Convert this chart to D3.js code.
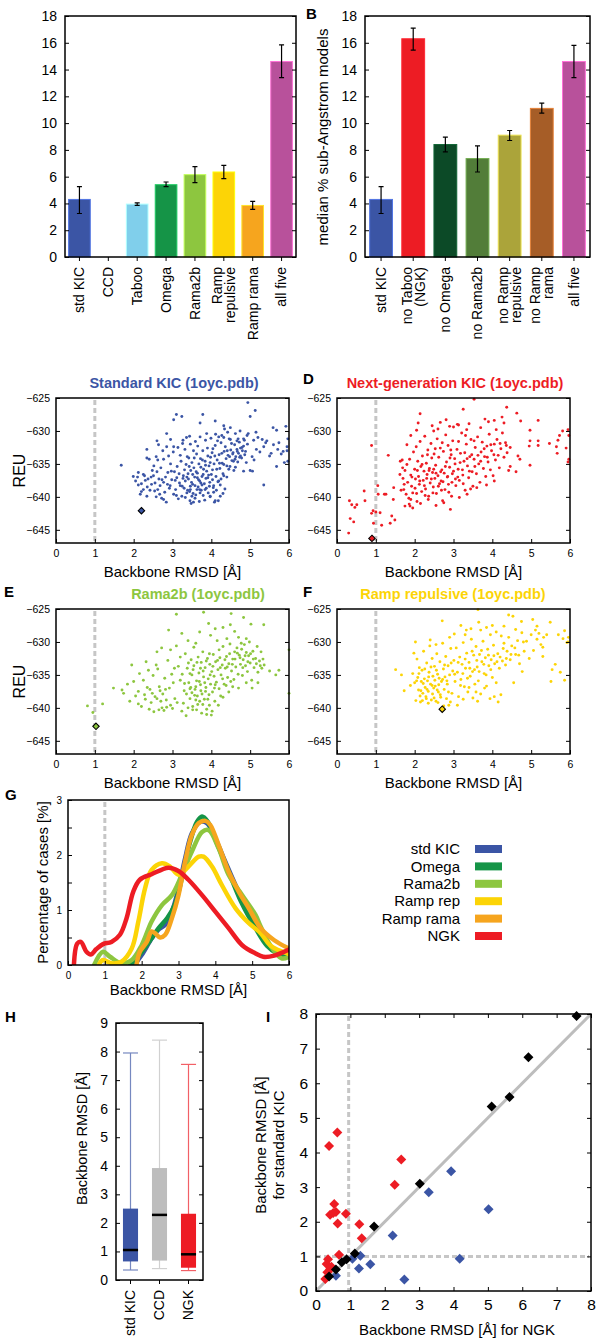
<!DOCTYPE html>
<html>
<head>
<meta charset="utf-8">
<script src="https://cdn.jsdelivr.net/npm/d3@7"></script>
<style>
  body { margin: 0; background: #fff; }
  svg { display: block; font-family: "Liberation Sans", Arial, Helvetica, sans-serif; }
</style>
</head>
<body>
<div id="container"></div>
<script>

// ---- data: panel A / B (median % sub-Angstrom models) ----
const namesA = ["std KIC", "CCD", "Taboo", "Omega", "Rama2b", "Ramp\nrepulsive", "Ramp rama", "all five"];
const valuesA = [4.3, 0, 3.95, 5.4, 6.15, 6.35, 3.85, 14.6];
const lowA = [3.25, 0, 3.85, 5.25, 5.55, 5.85, 3.55, 13.4];
const highA = [5.25, 0, 4.05, 5.6, 6.75, 6.85, 4.15, 15.85];
const colorsA = ["#3b55a5", "#ffffff", "#80cfeb", "#159447", "#8dc63f", "#fcd406", "#f6a51e", "#b8519b"];

const namesB = ["std KIC", "no Taboo\n(NGK)", "no Omega", "no Rama2b", "no Ramp\nrepulsive", "no Ramp\nrama", "all five"];
const valuesB = [4.3, 16.3, 8.4, 7.35, 9.1, 11.1, 14.6];
const lowB = [3.25, 15.45, 7.85, 6.35, 8.7, 10.75, 13.4];
const highB = [5.25, 17.1, 8.95, 8.3, 9.45, 11.5, 15.8];
const colorsB = ["#3b55a5", "#ed1c24", "#0c4a27", "#527d39", "#aba43a", "#a65d27", "#b8519b"];

// ---- data: panels C-F (backbone RMSD vs REU) ----
const stdKicPts = [[4.94,-625.7],[5.13,-626.9],[5.0,-627.8],[3.1,-627.5],[3.24,-627.8],[3.03,-628.3],[3.78,-627.5],[3.71,-628.8],[4.1,-628.5],[4.32,-629.2],[4.49,-629.5],[5.59,-629.5],[5.68,-629.9],[5.92,-629.3],[5.15,-630.2],[4.92,-630.7],[2.85,-630.4],[3.27,-631.4],[3.44,-630.8],[3.88,-630.4],[4.19,-630.9],[4.32,-631.0],[4.49,-631.3],[4.66,-631.5],[4.83,-631.2],[5.09,-631.4],[5.31,-631.3],[5.43,-631.5],[5.74,-631.8],[5.97,-631.2],[5.95,-632.4],[5.35,-632.4],[5.16,-632.8],[2.34,-632.8],[2.64,-632.1],[3.03,-632.4],[5.71,-632.8],[5.85,-633.1],[5.54,-633.4],[2.34,-634.1],[2.58,-633.9],[2.77,-634.3],[2.9,-633.8],[5.88,-634.8],[5.97,-634.6],[5.68,-635.4],[5.06,-636.1],[5.35,-638.2],[1.68,-635.2],[1.99,-636.9],[2.12,-638.2],[2.17,-639.6],[2.25,-638.9],[2.34,-639.9],[2.12,-636.3],[2.25,-636.6],[2.37,-637.3],[2.46,-638.1],[2.54,-639.1],[2.67,-639.6],[2.77,-640.4],[2.84,-640.8],[2.68,-638.3],[2.77,-637.8],[2.51,-636.8],[2.6,-636.2],[2.73,-637.4],[2.94,-638.3],[3.11,-637.1],[3.2,-638.3],[3.33,-637.6],[3.46,-638.9],[3.5,-639.9],[3.54,-640.8],[3.37,-639.4],[3.24,-639.9],[3.03,-639.6],[3.71,-639.4],[3.84,-638.9],[3.97,-640.0],[4.1,-640.6],[4.23,-639.9],[4.06,-638.3],[4.19,-637.6],[4.32,-636.8],[4.4,-635.3],[4.57,-634.6],[4.75,-633.8],[4.83,-636.1],
  [3.05,-636.2],[3.12,-635.4],[3.18,-637.9],[3.22,-634.6],[3.28,-636.8],[3.3,-638.7],[3.35,-635.1],[3.38,-633.9],[3.41,-637.3],[3.44,-639.2],[3.47,-636.0],[3.5,-634.8],[3.52,-638.1],[3.55,-635.6],[3.57,-637.0],[3.6,-639.7],[3.62,-633.5],[3.64,-636.4],[3.66,-638.5],[3.68,-635.0],[3.7,-637.6],[3.72,-634.2],[3.74,-639.0],[3.76,-636.9],[3.78,-633.0],[3.8,-635.8],[3.82,-638.0],[3.84,-634.6],[3.86,-637.2],[3.88,-636.1],[3.9,-632.6],[3.92,-639.4],[3.94,-635.3],[3.96,-637.8],[3.98,-634.0],[4.0,-636.6],[4.02,-633.3],[4.05,-638.6],[4.07,-635.0],[4.1,-632.2],[4.12,-636.9],[4.15,-634.4],[4.17,-637.7],[4.2,-633.6],[4.22,-635.7],[4.25,-631.8],[4.28,-634.9],[4.3,-636.5],[4.33,-633.1],[4.36,-632.4],[4.38,-634.2],[4.4,-637.0],[4.43,-633.7],[4.46,-631.2],[4.48,-635.4],[4.5,-632.9],[4.53,-634.5],[4.56,-633.3],[4.58,-636.0],[4.6,-632.1],[4.63,-633.9],[4.66,-632.8],[4.68,-634.7],[4.7,-633.4],[4.72,-631.7],[4.75,-632.6],[4.78,-634.1],[4.8,-633.0],[4.83,-632.3],[4.86,-633.6],[4.9,-634.8],[4.93,-632.0],
  [3.1,-639.8],[3.15,-640.3],[3.25,-638.4],[3.33,-640.1],[3.4,-636.5],[3.45,-640.6],[3.48,-641.0],[3.53,-639.5],[3.58,-640.2],[3.63,-638.9],[3.69,-640.7],[3.73,-637.9],[3.79,-639.8],[3.83,-640.5],[3.87,-638.7],[3.93,-636.7],[3.97,-639.9],[4.03,-637.4],[4.08,-640.8],[4.13,-639.0],[4.18,-640.6],[4.23,-638.2],[4.3,-639.5],[4.35,-638.8],
  [2.95,-635.0],[2.98,-637.4],[3.02,-633.2],[3.08,-638.9],[3.14,-632.5],[3.2,-633.7],[3.26,-631.9],[3.32,-632.8],[3.36,-631.0],[3.42,-634.1],[3.46,-632.0],[3.54,-633.0],[3.59,-631.6],[3.65,-632.3],[3.71,-630.9],[3.77,-634.4],[3.85,-631.4],[3.91,-633.8],[3.99,-631.1],[4.04,-632.7],[4.11,-630.5],[4.16,-631.5],[4.27,-630.7],[4.34,-629.7],[4.42,-630.2],[4.52,-631.9],[4.62,-630.4],[4.74,-630.0],
  [2.88,-636.3],[2.92,-638.7],[2.82,-637.0],[2.7,-635.6],[2.62,-634.4],[2.55,-637.9],[2.48,-636.0],[2.42,-639.0],[2.3,-637.5],[2.2,-638.0],[2.05,-637.6],[2.58,-640.0],[2.72,-640.2],[2.8,-639.3],[2.28,-636.8],[2.52,-635.3],[2.62,-638.9],[2.75,-633.0],[2.85,-632.4],[2.95,-631.3],[2.6,-631.5],[2.4,-634.3],
  [5.25,-633.2],[5.4,-631.8],[5.5,-633.8],[5.6,-632.1],[5.8,-633.5],[5.95,-633.0],[5.2,-631.0],[5.05,-633.9],[5.1,-634.4],[4.95,-630.4],[5.0,-636.0],
  [3.31,-635.9],[3.37,-637.0],[3.43,-635.4],[3.49,-637.8],[3.56,-634.1],[3.61,-636.2],[3.67,-637.4],[3.73,-635.5],[3.79,-636.6],[3.85,-635.2],[3.91,-637.1],[3.97,-634.8],[4.03,-635.9],[4.09,-633.8],[4.14,-635.8],[4.21,-634.9],[4.27,-633.4],[4.32,-635.1],[4.41,-633.0],[4.47,-633.9],[4.55,-633.5],[4.61,-634.3],[4.67,-633.1],[4.73,-634.0],[4.79,-632.5],[4.85,-631.4],[4.69,-631.2],[3.58,-638.3],[3.64,-637.1],[3.7,-638.9],[3.76,-638.2],[3.52,-636.6],[3.46,-638.4],[3.39,-639.0],[3.27,-637.2],[3.17,-636.5],[3.07,-637.5],[2.97,-636.1],[2.87,-638.1],[2.65,-637.3],[2.45,-637.0],[2.35,-638.5],[2.2,-639.2],[2.1,-637.0],[3.95,-638.4],[4.06,-639.3],[4.25,-637.3],[4.45,-635.8],[4.62,-635.5],[4.88,-633.1]];
const stdKicBest = [2.2, -642.1];

const ngkPts = [[0.3,-645.5],[0.32,-640.6],[0.38,-641.2],[0.43,-643.8],[0.34,-643.3],[0.51,-641.2],[0.46,-641.6],[0.7,-639.1],[0.72,-640.6],[0.89,-642.5],[0.89,-632.2],[0.94,-644.0],[0.93,-642.1],[1.0,-642.3],[1.05,-638.3],[1.06,-639.6],[1.11,-642.4],[1.15,-644.3],[1.22,-639.6],[1.26,-639.6],[1.32,-633.7],[1.37,-644.0],[1.41,-642.9],[1.46,-638.6],[1.49,-643.5],[1.45,-640.4],
  [3.53,-625.2],[3.25,-626.7],[4.37,-626.4],[2.14,-627.4],[4.63,-627.3],[4.73,-628.5],[5.18,-628.4],[3.81,-628.2],[4.05,-628.4],[4.25,-627.9],[2.66,-628.7],[2.81,-628.3],[2.09,-628.8],[3.13,-629.1],[2.9,-629.3],[2.49,-630.0],[3.34,-629.8],[4.97,-629.9],[5.95,-629.8],[5.81,-630.0],[5.97,-630.7],[5.73,-630.7],[5.69,-631.4],[5.47,-631.9],[4.97,-631.5],[5.18,-631.5],[5.18,-632.2],[4.95,-632.3],[5.65,-632.4],[5.67,-633.4],[5.9,-632.6],[5.97,-634.3],[5.95,-634.7],[4.97,-635.2],[4.61,-636.2],[4.46,-635.4],[4.66,-633.8],[4.71,-634.3],
  [1.63,-634.6],[1.69,-635.6],[1.73,-638.1],[1.75,-641.4],[1.86,-641.1],[1.9,-640.4],[1.88,-641.4],
  [1.7,-637.2],[1.72,-638.9],[1.75,-636.0],[1.78,-639.6],[1.8,-635.1],[1.82,-637.8],[1.85,-640.2],[1.87,-634.3],[1.9,-636.7],[1.92,-638.4],[1.95,-639.4],[1.97,-633.2],[2.0,-635.8],[2.02,-637.3],[2.04,-632.4],[2.06,-640.7],
  [2.08,-634.6],[2.1,-636.9],[2.12,-638.1],[2.14,-631.6],[2.16,-635.4],[2.18,-639.2],[2.2,-633.8],[2.22,-637.5],[2.24,-636.1],[2.26,-630.8],[2.28,-638.8],[2.3,-634.9],[2.32,-636.6],[2.34,-632.9],[2.36,-639.9],[2.38,-635.7],[2.4,-637.9],[2.42,-631.9],[2.44,-634.1],[2.46,-636.3],[2.48,-638.5],[2.5,-633.5],
  [2.52,-637.2],[2.54,-635.2],[2.56,-639.5],[2.58,-631.2],[2.6,-636.8],[2.62,-634.0],[2.64,-638.0],[2.66,-632.6],[2.68,-637.6],[2.7,-635.9],[2.72,-640.6],[2.74,-633.1],[2.76,-636.4],[2.78,-638.9],[2.8,-630.6],[2.82,-634.7],[2.84,-637.0],[2.86,-632.2],[2.88,-639.3],[2.9,-635.5],[2.92,-641.9],[2.94,-633.6],[2.96,-637.8],[2.98,-631.5],
  [3.0,-636.1],[3.03,-634.2],[3.06,-638.3],[3.09,-632.8],[3.12,-635.8],[3.15,-637.5],[3.18,-633.4],[3.21,-630.3],[3.24,-636.7],[3.27,-634.6],[3.3,-639.0],[3.33,-632.0],[3.36,-635.3],[3.39,-637.1],[3.42,-633.9],[3.45,-631.3],[3.48,-636.2],[3.5,-638.4],
  [3.53,-634.3],[3.56,-632.5],[3.59,-636.5],[3.62,-630.9],[3.65,-635.0],[3.68,-637.8],[3.71,-633.2],[3.74,-631.7],[3.77,-635.7],[3.8,-633.9],[3.83,-636.9],[3.86,-632.3],[3.89,-634.7],[3.92,-630.5],[3.95,-635.9],[3.98,-633.0],
  [4.02,-636.8],[4.05,-632.0],[4.08,-634.4],[4.12,-631.3],[4.15,-633.7],[4.18,-635.6],[4.22,-632.7],[4.26,-630.3],[4.3,-634.0],[4.34,-631.8],[4.38,-633.3],[4.42,-636.0],[4.46,-632.5],
  [2.15,-641.0],[2.35,-640.4],[2.55,-641.3],[2.75,-640.9],[2.95,-639.9],[3.15,-640.1],[3.35,-639.6],[3.6,-638.6],[3.85,-638.2],[4.05,-637.6],[1.95,-641.7],[1.65,-639.0],[1.62,-636.6],[1.68,-634.4],[2.45,-629.2],[2.6,-629.7],[3.0,-629.4],[3.1,-629.0],[3.4,-628.9],[3.7,-629.5],[3.9,-628.6],[4.1,-629.8],[4.3,-628.8],[1.8,-632.1],[1.9,-630.7],[2.05,-629.9],
  [1.93,-637.0],[2.01,-638.7],[2.07,-636.0],[2.13,-637.6],[2.19,-635.1],[2.25,-638.3],[2.31,-637.2],[2.37,-636.0],[2.43,-637.3],[2.49,-635.8],[2.55,-636.4],[2.61,-638.4],[2.67,-636.2],[2.73,-637.7],[2.79,-635.4],[2.85,-636.9],[2.91,-634.1],[2.97,-636.5],[3.04,-635.0],[3.11,-637.0],[3.17,-634.8],[3.23,-635.9],[3.29,-633.3],[3.35,-634.2],[3.41,-636.1],[3.47,-633.6],[3.55,-635.4],[3.63,-633.7],[3.7,-634.6],[3.79,-632.7],[3.87,-634.0],[3.96,-632.1],[4.04,-633.6],[4.2,-631.9],[4.36,-632.2],[2.05,-639.5],[2.27,-639.8],[2.47,-639.4],[2.69,-639.0],[2.87,-638.1],[3.05,-637.3],[3.25,-638.0],[3.44,-638.8],[2.33,-633.6],[2.53,-632.7],[2.71,-631.8],[2.93,-632.9],[3.13,-631.6],[3.31,-630.7],[3.53,-631.5]];
const ngkBest = [0.9, -646.3];

const rama2bPts = [[0.81,-639.7],[0.95,-640.7],[1.2,-639.4],[1.48,-637.0],[1.74,-637.8],[1.7,-637.3],[1.84,-636.4],[1.95,-633.5],[2.05,-638.2],[2.12,-637.5],[2.2,-639.8],[2.28,-638.0],[2.32,-633.0],[2.35,-636.9],[2.38,-634.3],[2.42,-637.2],[2.45,-639.2],[2.5,-635.1],[2.55,-638.3],[2.58,-633.5],[2.62,-634.1],[2.66,-636.8],[2.7,-639.0],[2.73,-640.0],[2.75,-637.9],[2.78,-640.4],[2.8,-635.5],[2.84,-638.8],[2.88,-632.8],[2.92,-637.0],[2.95,-639.6],[2.98,-634.9],[3.02,-636.2],[3.06,-638.6],[3.1,-625.8],[2.9,-628.2],[3.24,-628.7],[3.1,-630.6],[3.15,-633.7],[3.2,-635.8],[3.24,-640.5],[3.3,-637.4],[3.35,-641.2],[3.33,-631.8],[3.38,-634.0],[3.42,-636.2],[3.45,-638.6],[3.48,-632.7],[3.5,-635.0],[3.52,-639.8],[3.55,-633.6],[3.58,-637.2],[3.6,-630.2],[3.62,-635.9],[3.64,-638.2],[3.66,-632.3],[3.68,-634.7],[3.7,-639.0],[3.72,-636.5],[3.74,-633.1],[3.76,-637.9],[3.78,-631.5],[3.8,-625.5],[3.8,-635.3],[3.82,-638.7],[3.84,-633.9],[3.86,-636.9],[3.88,-640.2],[3.9,-632.5],[3.92,-635.6],[3.93,-627.2],[3.94,-638.0],[3.96,-633.4],[3.98,-636.4],[4.0,-641.1],[4.01,-634.5],[4.03,-637.6],[4.05,-631.9],[4.07,-635.2],[4.09,-639.0],[4.11,-633.0],[4.13,-636.1],[4.15,-629.8],[4.17,-634.2],[4.2,-637.1],[4.22,-632.4],[4.25,-635.0],[4.28,-633.5],[4.3,-630.7],[4.33,-636.4],[4.36,-634.0],[4.39,-632.2],[4.42,-635.4],[4.45,-633.3],[4.49,-627.4],[4.51,-625.7],[4.48,-630.3],[4.52,-634.4],[4.55,-632.6],[4.58,-635.7],[4.6,-631.5],[4.63,-633.8],[4.66,-630.9],[4.69,-634.9],[4.72,-632.0],[4.75,-633.4],[4.78,-631.1],[4.8,-635.1],[4.83,-626.3],[4.82,-632.7],[4.85,-630.4],[4.88,-633.6],[4.9,-631.6],[4.93,-634.5],[4.96,-632.1],[4.98,-630.0],[5.02,-627.3],[5.0,-633.2],[5.04,-635.8],[5.07,-631.4],[5.1,-633.9],[5.14,-632.5],[5.18,-630.7],[5.2,-634.6],[5.24,-632.9],[5.28,-631.5],[5.3,-634.0],[5.33,-632.6],[5.35,-627.4],[5.36,-633.5],[5.5,-634.4],[5.66,-635.0],[5.74,-634.3],[6.0,-631.2],[6.0,-637.8],
  [3.4,-629.8],[3.55,-630.8],[3.7,-628.5],[3.98,-629.0],[4.1,-628.0],[4.3,-627.8],[4.6,-628.4],[4.7,-629.3],[2.6,-631.5],[2.72,-630.9],[2.95,-631.2],[3.2,-632.3],[3.28,-639.3],[3.4,-640.0],[3.62,-640.3],[3.75,-640.8],[3.88,-641.0],[4.02,-640.5],[4.18,-639.6],[4.3,-638.4],[4.45,-637.6],[4.55,-636.8],[4.7,-637.0],[4.9,-636.2],[5.05,-637.0],[5.2,-636.2],[3.5,-637.7],[3.6,-636.8],[3.65,-639.5],[3.85,-637.5],[3.95,-639.6],[4.08,-637.0],[3.45,-634.8],[3.72,-634.0],[3.95,-631.8],[4.2,-631.2],[4.4,-629.5],[1.9,-639.0],[2.0,-636.0],[2.15,-634.8],[2.25,-635.8],[2.4,-640.2],[2.52,-640.6],[2.65,-640.3],[2.82,-637.2],[3.0,-640.1],[3.12,-639.2],
  [3.31,-636.3],[3.36,-637.9],[3.41,-633.2],[3.47,-636.9],[3.53,-634.2],[3.57,-638.1],[3.63,-633.1],[3.69,-636.0],[3.73,-637.4],[3.79,-634.4],[3.83,-636.2],[3.87,-632.9],[3.91,-638.7],[3.97,-635.0],[4.04,-633.7],[4.1,-636.5],[4.16,-632.8],[4.23,-633.9],[4.29,-635.6],[4.35,-632.7],[4.41,-633.8],[4.47,-631.8],[4.54,-633.4],[4.61,-632.6],[4.67,-631.7],[4.74,-632.4],[4.81,-633.9],[4.87,-632.1],[4.94,-633.0],[5.01,-631.8],[5.08,-632.6],[5.16,-633.3],[5.26,-633.6],[4.77,-630.2],[4.9,-629.5],[3.52,-640.3],[3.78,-639.5],[3.6,-638.8],[3.45,-637.1],[2.48,-637.8],[2.6,-638.6],[2.68,-637.4],[2.85,-639.9],[2.3,-638.7],[2.12,-639.4],[3.05,-634.0],[3.25,-634.9],[4.24,-638.2],[4.38,-636.6],[4.5,-636.0]];
const rama2bBest = [1.03, -642.8];

const rampRepPts = [[1.51,-634.2],[1.66,-635.0],[1.73,-637.4],[1.89,-636.6],[1.98,-631.7],[2.02,-630.0],[2.71,-626.8],[3.19,-627.5],[3.33,-628.2],[3.65,-627.0],[3.63,-625.1],[4.0,-627.5],[4.23,-629.1],[4.42,-625.9],[4.53,-626.1],[4.75,-626.9],[5.04,-626.6],[5.11,-628.2],[5.49,-627.0],[5.86,-628.3],[5.96,-629.3],[5.92,-630.1],[5.32,-629.3],[5.3,-632.2],[5.54,-634.2],[5.51,-636.0],[5.86,-635.8],[5.62,-633.4],[5.75,-634.6],[4.77,-634.5],
  [1.95,-634.8],[2.0,-636.2],[2.03,-638.9],[2.06,-632.6],[2.08,-635.4],[2.1,-637.3],[2.12,-633.9],[2.15,-639.1],[2.17,-636.0],[2.19,-634.3],[2.21,-637.8],[2.23,-631.4],[2.25,-635.6],[2.27,-636.9],[2.29,-638.3],[2.31,-633.2],[2.33,-635.9],[2.35,-637.5],[2.37,-634.6],[2.39,-630.6],[2.41,-636.4],[2.43,-638.8],[2.45,-632.5],[2.47,-635.2],[2.49,-637.0],[2.51,-633.7],[2.53,-636.7],[2.55,-639.0],[2.57,-631.8],[2.59,-634.9],[2.61,-637.6],[2.63,-635.5],[2.65,-633.0],[2.67,-638.4],[2.69,-636.0],[2.72,-630.2],[2.74,-634.1],[2.76,-637.2],[2.78,-635.3],[2.8,-632.2],[2.82,-638.6],[2.84,-636.4],[2.86,-633.6],[2.88,-639.6],[2.9,-635.0],[2.93,-631.0],[2.96,-637.8],[2.98,-634.4],
  [3.01,-632.8],[3.04,-636.0],[3.07,-630.9],[3.1,-634.6],[3.13,-638.3],[3.16,-632.3],[3.19,-635.7],[3.22,-633.4],[3.25,-630.1],[3.28,-636.8],[3.31,-634.0],[3.34,-631.7],[3.37,-637.6],[3.4,-633.1],[3.43,-635.2],[3.46,-629.6],[3.49,-634.5],[3.52,-632.0],[3.55,-636.4],[3.58,-630.7],[3.61,-633.8],[3.64,-635.9],[3.67,-631.9],[3.7,-637.9],[3.73,-633.0],[3.76,-629.9],[3.79,-634.8],[3.82,-632.4],[3.85,-636.7],[3.88,-631.1],[3.91,-633.6],[3.94,-638.6],[3.97,-632.7],[4.0,-635.4],[4.03,-630.5],[4.06,-633.3],[4.1,-636.2],[4.14,-631.8],[4.18,-634.0],[4.22,-638.0],[4.26,-632.9],[4.3,-630.2],
  [4.34,-633.5],[4.38,-631.4],[4.42,-629.3],[4.46,-632.7],[4.5,-630.6],[4.55,-636.2],[4.6,-631.9],[4.65,-629.8],[4.7,-633.3],[4.76,-628.6],[4.82,-631.4],[4.88,-629.9],[4.95,-632.5],[5.0,-628.9],[5.06,-631.3],[5.15,-629.6],[5.2,-628.7],[5.25,-630.4],[5.4,-628.9],
  [2.2,-638.9],[2.35,-639.3],[2.5,-638.5],[2.6,-639.2],[2.75,-639.7],[2.92,-639.1],[3.1,-639.6],[3.25,-638.7],[3.5,-638.5],[3.62,-639.0],[4.15,-639.1],[4.05,-638.3],
  [2.4,-629.7],[2.55,-630.4],[2.9,-629.3],[3.02,-628.8],[3.3,-628.9],[3.45,-628.0],[3.7,-628.2],[3.85,-627.8],[3.95,-628.9],[4.1,-628.5],[4.3,-627.6],[4.6,-628.1],[5.15,-627.6],[5.3,-630.8],[5.7,-628.9],[5.82,-629.5],[5.95,-630.0],
  [2.05,-635.9],[2.11,-634.8],[2.16,-637.4],[2.22,-636.3],[2.26,-634.1],[2.32,-637.2],[2.36,-635.3],[2.42,-633.8],[2.46,-637.9],[2.52,-635.8],[2.56,-634.3],[2.62,-636.5],[2.66,-638.0],[2.72,-635.7],[2.77,-633.5],[2.83,-635.9],[2.87,-637.6],[2.94,-633.2],[3.03,-634.9],[3.12,-633.1],[3.18,-636.6],[3.24,-634.8],[3.3,-632.6],[3.36,-635.5],[3.42,-634.0],[3.48,-631.4],[3.54,-634.2],[3.6,-632.8],[3.66,-634.5],[3.72,-631.3],[3.78,-633.4],[3.84,-635.0],[3.9,-632.0],[3.96,-634.2],[4.04,-632.1],[4.12,-633.0],[4.2,-632.3],[4.28,-631.0],[4.36,-632.5],[4.48,-631.9],[4.58,-630.9],[4.68,-632.0],[4.8,-630.0],[2.14,-638.2],[2.3,-638.6],[2.45,-636.6],[2.58,-637.3],[3.4,-636.9],[3.58,-637.6],[3.8,-637.0]];
const rampRepBest = [2.71, -640.2];

// ---- data: panel G (distribution curves) ----
const curveNames = ["std KIC", "Omega", "Rama2b", "Ramp rep", "Ramp rama", "NGK"];
const curveColors = ["#3b55a5", "#159447", "#8dc63f", "#fcd406", "#f6a51e", "#ed1c24"];
const stdKicCurve = [[1.8,0],[2.0,0.18],[2.27,0.48],[2.45,0.64],[2.64,0.73],[2.82,0.97],[3.0,1.39],[3.18,1.94],[3.36,2.39],[3.59,2.6],[3.77,2.58],[4.0,2.3],[4.27,1.88],[4.55,1.45],[4.82,1.09],[5.09,0.79],[5.3,0.5],[5.6,0.25],[6.0,0.15]];
const omegaCurve = [[1.68,0],[1.91,0.16],[2.2,0.42],[2.45,0.66],[2.7,0.86],[2.9,1.1],[3.1,1.6],[3.3,2.2],[3.5,2.6],[3.64,2.7],[3.8,2.6],[4.05,2.2],[4.36,1.7],[4.7,1.15],[5.09,0.67],[5.4,0.35],[5.7,0.2],[6.0,0.15]];
const rama2bCurve = [[0.71,0],[0.95,0.24],[1.14,0.15],[1.45,0.03],[1.73,0.09],[2.0,0.36],[2.27,0.79],[2.55,1.09],[2.82,1.27],[3.09,1.64],[3.36,2.06],[3.64,2.42],[3.82,2.45],[4.09,2.12],[4.36,1.64],[4.73,1.27],[5.09,0.91],[5.23,0.7],[5.5,0.35],[5.8,0.12],[6.0,0.15]];
const rampRepCurve = [[0.85,0.02],[0.95,0.09],[1.18,0.03],[1.45,0.06],[1.73,0.3],[1.91,0.79],[2.09,1.39],[2.27,1.73],[2.55,1.85],[2.77,1.79],[3.0,1.64],[3.27,1.79],[3.55,1.97],[3.68,1.97],[3.91,1.79],[4.18,1.45],[4.55,1.03],[4.91,0.76],[5.23,0.58],[5.5,0.35],[6.0,0.2]];
const rampRamaCurve = [[1.86,0],[1.95,0.24],[2.14,0.42],[2.27,0.61],[2.36,0.58],[2.5,0.5],[2.64,0.55],[2.82,0.85],[3.0,1.27],[3.18,1.88],[3.36,2.36],[3.55,2.58],[3.73,2.62],[3.86,2.55],[4.09,2.18],[4.36,1.7],[4.64,1.33],[4.91,1.03],[5.23,0.67],[5.6,0.45],[6.0,0.3]];
const ngkCurve = [[0.16,0],[0.25,0.39],[0.35,0.42],[0.5,0.24],[0.62,0.19],[0.77,0.29],[0.95,0.38],[1.18,0.42],[1.41,0.55],[1.59,0.85],[1.77,1.33],[1.95,1.55],[2.27,1.65],[2.73,1.77],[3.0,1.71],[3.27,1.55],[3.64,1.27],[4.0,0.97],[4.36,0.67],[4.73,0.36],[5.09,0.21],[5.3,0.15],[5.6,0.17],[6.0,0.28]];
const curves = [stdKicCurve, omegaCurve, rama2bCurve, rampRepCurve, rampRamaCurve, ngkCurve];

// ---- data: panel H (box plots) ----
const boxNames = ["std KIC", "CCD", "NGK"];
const boxMin = [0.35, 0.4, 0.33];
const boxQ1 = [0.65, 0.68, 0.43];
const boxMedian = [1.05, 2.28, 0.9];
const boxQ3 = [2.5, 3.92, 2.32];
const boxMax = [7.95, 8.4, 7.55];
const boxColors = ["#3b55a5", "#bdbdbd", "#ed1c24"];

// ---- data: panel I (NGK vs standard KIC per case) ----
const ngkBetter = [[0.38,4.19],[0.62,4.58],[2.48,3.8],[2.29,3.07],[0.53,2.51],[0.58,2.28],[0.41,2.2],[0.87,2.23],[0.63,1.95],[1.26,1.93],[1.33,1.52],[0.67,1.05],[0.35,0.92],[0.31,0.78],[0.41,0.63],[0.33,0.54],[0.27,0.35],[0.45,0.7],[0.5,2.25]];
const kicBetter = [[0.58,0.44],[1.06,0.93],[1.29,1.02],[1.25,0.65],[1.58,0.77],[2.23,1.6],[2.57,0.33],[3.28,2.85],[3.93,3.46],[4.18,0.93],[5.02,2.36]];
const similar = [[7.58,7.94],[6.18,6.75],[5.63,5.6],[5.11,5.33],[3.02,3.1],[1.69,1.86],[1.13,1.08],[0.89,0.92],[0.75,0.83],[0.58,0.62],[0.38,0.42]];

// Create the SVG container.
const width = 597;
const height = 1341;
const svg = d3.create("svg")
    .attr("width", width)
    .attr("height", height);
container.append(svg.node());
svg.append("rect").attr("width", width).attr("height", height).attr("fill", "#fff");

// small helpers
function styleAxis(sel, size) {
  sel.attr("font-size", size).attr("font-family", null);
  sel.select(".domain").remove();
  sel.selectAll("text").attr("fill", "#000");
}
function box(x0, y0, x1, y1) {
  svg.append("rect")
    .attr("x", x0).attr("y", y0)
    .attr("width", x1 - x0).attr("height", y1 - y0)
    .attr("fill", "none").attr("stroke", "#000").attr("stroke-width", 1.5);
}
function letter(t, x, y) {
  svg.append("text").attr("x", x).attr("y", y)
    .attr("font-size", 15).attr("font-weight", "bold").text(t);
}
function diamond(r) {
  return `M0,${-r}L${r},0L0,${r}L${-r},0Z`;
}

// ---- bar panels A and B ----
function barPanel(names, values, lows, highs, colors, left, right, top, bottom, padIn, padOut) {
  const x = d3.scaleBand().domain(names).range([left, right]).paddingInner(padIn).paddingOuter(padOut);
  const y = d3.scaleLinear().domain([0, 18]).range([bottom, top]);
  const g = svg.append("g");

  g.selectAll("rect.bar")
    .data(names.filter((n, i) => values[i] > 0))
    .join("rect")
      .attr("x", d => x(d))
      .attr("y", d => y(values[names.indexOf(d)]))
      .attr("width", x.bandwidth())
      .attr("height", d => bottom - y(values[names.indexOf(d)]))
      .attr("fill", d => colors[names.indexOf(d)])
      .attr("stroke", d => d3.color(colors[names.indexOf(d)]).brighter(0.9))
      .attr("stroke-width", 1);

  // error bars
  names.forEach((n, i) => {
    if (values[i] <= 0) return;
    const cx = x(n) + x.bandwidth() / 2;
    g.append("path")
      .attr("d", `M${cx},${y(lows[i])}V${y(highs[i])}M${cx - 2.5},${y(lows[i])}H${cx + 2.5}M${cx - 2.5},${y(highs[i])}H${cx + 2.5}`)
      .attr("stroke", "#000").attr("stroke-width", 1.2).attr("fill", "none");
  });

  g.append("g").attr("transform", `translate(${left},0)`)
    .call(d3.axisLeft(y).tickValues(d3.range(0, 19, 2)).tickSize(-4).tickPadding(8))
    .call(a => styleAxis(a, 14));
  g.append("g").attr("transform", `translate(${right},0)`)
    .call(d3.axisRight(y).tickValues(d3.range(0, 19, 2)).tickSize(-4).tickFormat(() => ""))
    .call(a => styleAxis(a, 14));
  g.append("g").attr("transform", `translate(0,${bottom})`)
    .call(d3.axisBottom(x).tickSize(4).tickFormat(() => ""))
    .call(a => styleAxis(a, 14));

  box(left, top, right, bottom);

  // rotated category labels
  names.forEach(n => {
    const lines = n.split("\n");
    const cx = x(n) + x.bandwidth() / 2;
    lines.forEach((t, j) => {
      const off = (j - (lines.length - 1) / 2) * 13;
      g.append("text")
        .attr("transform", `translate(${cx + off},${bottom + 10}) rotate(-90)`)
        .attr("text-anchor", "end")
        .attr("dy", "0.35em")
        .attr("font-size", 14)
        .text(t);
    });
  });
  return { x, y };
}

barPanel(namesA, valuesA, lowA, highA, colorsA, 65, 296, 16, 257, 0.25, 0.125);
barPanel(namesB, valuesB, lowB, highB, colorsB, 365, 590, 16, 257, 0.29, 0.145);
letter("B", 306, 19);
svg.append("text")
  .attr("transform", `translate(328,137) rotate(-90)`)
  .attr("text-anchor", "middle")
  .attr("font-size", 15)
  .text("median % sub-Angstrom models");

// ---- scatter panels C-F ----
function scatterPanel(pts, best, color, left, right, top, bottom, title, titleX, titleY, reu) {
  const x = d3.scaleLinear().domain([0, 6]).range([left, right]);
  const y = d3.scaleLinear().domain([-647, -625]).range([bottom, top]);
  const g = svg.append("g");

  g.append("line")
    .attr("x1", x(1)).attr("x2", x(1)).attr("y1", top + 2).attr("y2", bottom)
    .attr("stroke", "#c6c6c6").attr("stroke-width", 3).attr("stroke-dasharray", "5,3");

  g.selectAll("circle")
    .data(pts)
    .join("circle")
      .attr("cx", d => x(d[0]))
      .attr("cy", d => y(d[1]))
      .attr("r", 1.45)
      .attr("fill", color);

  g.append("path")
    .attr("d", diamond(3.2))
    .attr("transform", `translate(${x(best[0])},${y(best[1])})`)
    .attr("fill", color).attr("stroke", "#000").attr("stroke-width", 1.1);

  g.append("g").attr("transform", `translate(${left},0)`)
    .call(d3.axisLeft(y).tickValues([-645, -640, -635, -630, -625]).tickSize(-4).tickPadding(6))
    .call(a => styleAxis(a, 10.5));
  g.append("g").attr("transform", `translate(${right},0)`)
    .call(d3.axisRight(y).tickValues([-645, -640, -635, -630, -625]).tickSize(-4).tickFormat(() => ""))
    .call(a => styleAxis(a, 10.5));
  g.append("g").attr("transform", `translate(0,${bottom})`)
    .call(d3.axisBottom(x).ticks(6).tickSize(-4).tickPadding(7))
    .call(a => styleAxis(a, 10.5));

  box(left, top, right, bottom);

  g.append("text")
    .attr("x", (left + right) / 2).attr("y", bottom + 34)
    .attr("text-anchor", "middle").attr("font-size", 15)
    .text("Backbone RMSD [Å]");
  g.append("text")
    .attr("x", titleX).attr("y", titleY)
    .attr("text-anchor", "middle").attr("font-size", 14.5).attr("font-weight", "bold")
    .attr("fill", color)
    .text(title);
  if (reu) {
    g.append("text")
      .attr("transform", `translate(25,${(top + bottom) / 2}) rotate(-90)`)
      .attr("text-anchor", "middle").attr("font-size", 16)
      .text("REU");
  }
}

scatterPanel(stdKicPts, stdKicBest, "#3b55a5", 56, 289, 398, 543, "Standard KIC (1oyc.pdb)", 174, 388, true);
scatterPanel(ngkPts, ngkBest, "#ed1c24", 337, 570, 398, 543, "Next-generation KIC (1oyc.pdb)", 455, 388, false);
scatterPanel(rama2bPts, rama2bBest, "#8dc63f", 56, 289, 609, 754, "Rama2b (1oyc.pdb)", 198, 599, true);
scatterPanel(rampRepPts, rampRepBest, "#fcd406", 337, 570, 609, 754, "Ramp repulsive (1oyc.pdb)", 453, 599, false);
letter("D", 303, 384);
letter("E", 4, 597);
letter("F", 303, 597);

// ---- panel G ----
{
  const left = 68, right = 289, top = 800, bottom = 965;
  const x = d3.scaleLinear().domain([0, 6]).range([left, right]);
  const y = d3.scaleLinear().domain([0, 3]).range([bottom, top]);
  const g = svg.append("g");

  svg.append("clipPath").attr("id", "clipG")
    .append("rect").attr("x", left).attr("y", top).attr("width", right - left).attr("height", bottom - top);

  g.append("line")
    .attr("x1", x(1)).attr("x2", x(1)).attr("y1", top + 2).attr("y2", bottom)
    .attr("stroke", "#c6c6c6").attr("stroke-width", 3).attr("stroke-dasharray", "5,3");

  const line = d3.line()
    .x(d => x(d[0]))
    .y(d => y(d[1]))
    .curve(d3.curveCatmullRom.alpha(0.5));

  g.append("g").attr("clip-path", "url(#clipG)")
    .selectAll("path")
    .data(curves)
    .join("path")
      .attr("d", line)
      .attr("fill", "none")
      .attr("stroke", (d, i) => curveColors[i])
      .attr("stroke-width", 4.5)
      .attr("stroke-linecap", "round")
      .attr("stroke-linejoin", "round");

  g.append("g").attr("transform", `translate(${left},0)`)
    .call(d3.axisLeft(y).tickValues(d3.range(0, 3.01, 0.5)).tickSize(-4).tickPadding(6)
      .tickFormat(d => Number.isInteger(d) ? d : ""))
    .call(a => styleAxis(a, 10));
  g.append("g").attr("transform", `translate(0,${bottom})`)
    .call(d3.axisBottom(x).ticks(6).tickSize(-4).tickPadding(7))
    .call(a => styleAxis(a, 10));
  box(left, top, right, bottom);

  g.append("text")
    .attr("x", (left + right) / 2).attr("y", 995)
    .attr("text-anchor", "middle").attr("font-size", 15)
    .text("Backbone RMSD [Å]");
  g.append("text")
    .attr("transform", `translate(48,${(top + bottom) / 2}) rotate(-90)`)
    .attr("text-anchor", "middle").attr("font-size", 15)
    .text("Percentage of cases [%]");

  // legend
  curveNames.forEach((n, i) => {
    const cy = 849 + i * 17.4;
    g.append("text")
      .attr("x", 460).attr("y", cy).attr("dy", "0.35em")
      .attr("text-anchor", "end").attr("font-size", 15)
      .text(n);
    g.append("rect")
      .attr("x", 475).attr("y", cy - 4).attr("width", 27).attr("height", 8)
      .attr("fill", curveColors[i]);
  });
  letter("G", 5, 800);
}

// ---- panel H ----
{
  const left = 116, right = 203, top = 1023, bottom = 1280;
  const x = d3.scaleBand().domain(boxNames).range([left, right]).paddingInner(0.48).paddingOuter(0.24);
  const y = d3.scaleLinear().domain([0, 9]).range([bottom, top]);
  const g = svg.append("g");

  boxNames.forEach((n, i) => {
    const x0 = x(n), w = x.bandwidth(), cx = x0 + w / 2;
    const light = d3.interpolateRgb(boxColors[i], "#fff")(0.3);
    g.append("line")
      .attr("x1", cx).attr("x2", cx).attr("y1", y(boxMin[i])).attr("y2", y(boxMax[i]))
      .attr("stroke", light).attr("stroke-width", 1.2);
    [boxMin[i], boxMax[i]].forEach(v => {
      g.append("line")
        .attr("x1", x0).attr("x2", x0 + w).attr("y1", y(v)).attr("y2", y(v))
        .attr("stroke", light).attr("stroke-width", 1.2);
    });
    g.append("rect")
      .attr("x", x0).attr("y", y(boxQ3[i]))
      .attr("width", w).attr("height", y(boxQ1[i]) - y(boxQ3[i]))
      .attr("fill", boxColors[i]);
    g.append("line")
      .attr("x1", x0).attr("x2", x0 + w).attr("y1", y(boxMedian[i])).attr("y2", y(boxMedian[i]))
      .attr("stroke", "#000").attr("stroke-width", 2.5);
  });

  g.append("g").attr("transform", `translate(${left},0)`)
    .call(d3.axisLeft(y).ticks(9).tickSize(-4).tickPadding(8))
    .call(a => styleAxis(a, 14));
  g.append("g").attr("transform", `translate(${right},0)`)
    .call(d3.axisRight(y).ticks(9).tickSize(-4).tickFormat(() => ""))
    .call(a => styleAxis(a, 14));
  g.append("g").attr("transform", `translate(0,${bottom})`)
    .call(d3.axisBottom(x).tickSize(4).tickFormat(() => ""))
    .call(a => styleAxis(a, 14));
  box(left, top, right, bottom);

  boxNames.forEach(n => {
    g.append("text")
      .attr("transform", `translate(${x(n) + x.bandwidth() / 2},${bottom + 10}) rotate(-90)`)
      .attr("text-anchor", "end").attr("dy", "0.35em").attr("font-size", 14)
      .text(n);
  });
  g.append("text")
    .attr("transform", `translate(87,${(top + bottom) / 2 - 13}) rotate(-90)`)
    .attr("text-anchor", "middle").attr("font-size", 14.5)
    .text("Backbone RMSD [Å]");
  letter("H", 5, 1022);
}

// ---- panel I ----
{
  const left = 316, right = 591, top = 1014, bottom = 1291;
  const x = d3.scaleLinear().domain([0, 8]).range([left, right]);
  const y = d3.scaleLinear().domain([0, 8]).range([bottom, top]);
  const g = svg.append("g");

  g.append("line")
    .attr("x1", x(0)).attr("y1", y(0)).attr("x2", x(8)).attr("y2", y(8))
    .attr("stroke", "#bdbdbd").attr("stroke-width", 3);
  g.append("line")
    .attr("x1", x(0.95)).attr("x2", x(0.95)).attr("y1", top + 2).attr("y2", bottom)
    .attr("stroke", "#c6c6c6").attr("stroke-width", 3).attr("stroke-dasharray", "5,3");
  g.append("line")
    .attr("x1", left).attr("x2", right - 2).attr("y1", y(1)).attr("y2", y(1))
    .attr("stroke", "#c6c6c6").attr("stroke-width", 3).attr("stroke-dasharray", "5,3");

  const sets = [[ngkBetter, "#ed1c24"], [kicBetter, "#3b55a5"], [similar, "#000"]];
  sets.forEach(([pts, c]) => {
    g.append("g").selectAll("path")
      .data(pts)
      .join("path")
        .attr("d", diamond(5))
        .attr("transform", d => `translate(${x(d[0])},${y(d[1])})`)
        .attr("fill", c);
  });

  g.append("g").attr("transform", `translate(${left},0)`)
    .call(d3.axisLeft(y).ticks(8).tickSize(-4).tickPadding(8))
    .call(a => styleAxis(a, 15.5));
  g.append("g").attr("transform", `translate(${right},0)`)
    .call(d3.axisRight(y).ticks(8).tickSize(-4).tickFormat(() => ""))
    .call(a => styleAxis(a, 15.5));
  g.append("g").attr("transform", `translate(0,${bottom})`)
    .call(d3.axisBottom(x).ticks(8).tickSize(-4).tickPadding(8))
    .call(a => styleAxis(a, 15.5));
  g.append("g").attr("transform", `translate(0,${top})`)
    .call(d3.axisTop(x).ticks(8).tickSize(-4).tickFormat(() => ""))
    .call(a => styleAxis(a, 15.5));
  box(left, top, right, bottom);

  g.append("text")
    .attr("x", 457).attr("y", 1335)
    .attr("text-anchor", "middle").attr("font-size", 15)
    .text("Backbone RMSD [Å] for NGK");
  g.append("text")
    .attr("transform", `translate(266,1145) rotate(-90)`)
    .attr("text-anchor", "middle").attr("font-size", 15)
    .text("Backbone RMSD [Å]");
  g.append("text")
    .attr("transform", `translate(284,1145) rotate(-90)`)
    .attr("text-anchor", "middle").attr("font-size", 15)
    .text("for standard KIC");
  letter("I", 266, 1022);
}

</script>
</body>
</html>
